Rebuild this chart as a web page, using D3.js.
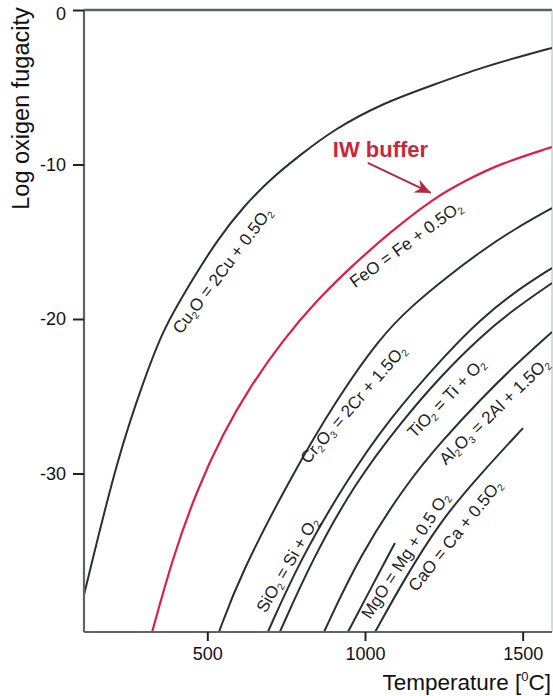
<!DOCTYPE html>
<html>
<head>
<meta charset="utf-8">
<script src="https://cdn.jsdelivr.net/npm/d3@7"></script>
<style>
body { margin: 0; background: #fff; }
svg { display: block; font-family: "Liberation Sans", Arial, sans-serif; }
</style>
</head>
<body>
<svg id="chart" width="553" height="696"></svg>
<script>
// [temperature in °C, log fO2]
const cu2o  = [[109,-37.86],[217,-28.8],[302,-23.8],[359,-20.7],[445,-17.7],[531,-14.9],[613,-12.75],[708,-10.8],[794,-9.4],[898,-7.77],[1057,-6.02],[1216,-4.85],[1374,-3.69],[1533,-2.78],[1593,-2.46]];
const feo   = [[325,-40.26],[391,-35.4],[467,-31.07],[550,-27.4],[635,-24.4],[740,-21.36],[848,-18.77],[962,-16.5],[1079,-14.4],[1216,-12.2],[1323,-11.0],[1428,-9.95],[1593,-8.87]];
const cr2o3 = [[537,-40.26],[604,-36.57],[772,-29.97],[905,-25.37],[1048,-21.17],[1152,-19.09],[1260,-17.28],[1365,-15.66],[1469,-14.24],[1593,-12.82]];
const sio2  = [[692,-40.26],[794,-35.6],[937,-30.61],[1073,-26.54],[1260,-22.2],[1365,-20.06],[1469,-18.32],[1593,-16.7]];
const tio2  = [[730,-40.26],[832,-35.6],[968,-30.61],[1120,-26.54],[1238,-23.75],[1365,-21.17],[1469,-19.42],[1593,-17.67]];
const al2o3 = [[870,-40.26],[984,-35.28],[1133,-30.61],[1247,-27.83],[1365,-25.24],[1476,-22.98],[1593,-20.84]];
const mgo   = [[946,-40.26],[1016,-37.54],[1095,-34.5]];
const cao   = [[1032,-40.26],[1127,-36.76],[1238,-33.14],[1349,-30.42],[1501,-27.06]];

const xTicks = [500, 1000, 1500];
const yTicks = [0, -10, -20, -30];

// label text ("_n" = subscript), anchor T, anchor log fO2, angle
const curveLabels = [
    ["Cu_2O = 2Cu + 0.5O_2", 547, -16.85, -53],
    ["FeO = Fe + 0.5O_2", 1129, -15.15, -36],
    ["Cr_2O_3 = 2Cr + 1.5O_2", 962, -25.5, -49],
    ["SiO_2 = Si + O_2", 753, -35.9, -60],
    ["TiO_2 = Ti + O_2", 1257, -25.1, -46],
    ["Al_2O_3 = 2Al + 1.5O_2", 1409, -25.95, -44],
    ["MgO = Mg + 0.5 O_2", 1127, -35.3, -57],
    ["CaO = Ca + 0.5O_2", 1285, -34.0, -51]
];

const svg = d3.select("#chart");
const x = d3.scaleLinear().domain([109, 1593]).range([84, 552]);
const y = d3.scaleLinear().domain([-40.26, 0]).range([632, 10]);

const dark = "#283031";
const red = "#dc1f4a";

svg.append("defs").append("clipPath").attr("id", "plot")
    .append("rect").attr("x", 84).attr("y", 10).attr("width", 468).attr("height", 622);

svg.append("defs").append("marker")
    .attr("id", "head").attr("viewBox", "-16 -8 18 16")
    .attr("markerWidth", 18).attr("markerHeight", 16)
    .attr("markerUnits", "userSpaceOnUse")
    .attr("refX", 0).attr("refY", 0).attr("orient", "auto")
    .append("path").attr("d", "M0,0 L-16,-7 L-11,0 L-16,7 Z").attr("fill", "#b3283f");

// frame
svg.append("line").attr("x1", 84).attr("x2", 552).attr("y1", 10).attr("y2", 10)
    .attr("stroke", "#5d6466").attr("stroke-width", 2.5);
svg.append("line").attr("x1", 552).attr("x2", 552).attr("y1", 10).attr("y2", 632)
    .attr("stroke", "#b0b4b6").attr("stroke-width", 1);

let line = d3.line().x(d => x(d[0])).y(d => y(d[1])).curve(d3.curveBasis);

let curves = svg.append("g").attr("clip-path", "url(#plot)");
[cu2o, cr2o3, sio2, tio2, al2o3, mgo, cao].forEach(c => {
    curves.append("path").attr("d", line(c)).attr("fill", "none")
        .attr("stroke", dark).attr("stroke-width", 2);
});
curves.append("path").attr("d", line(feo)).attr("fill", "none")
    .attr("stroke", red).attr("stroke-width", 2.2);

// axes
let xAxis = svg.append("g").attr("transform", "translate(0,632)")
    .call(d3.axisBottom(x).tickValues(xTicks).tickFormat(d => d).tickSize(9).tickPadding(6));
let yAxis = svg.append("g").attr("transform", "translate(84,0)")
    .call(d3.axisLeft(y).tickValues(yTicks).tickFormat(d => d).tickSize(11).tickPadding(7));

[xAxis, yAxis].forEach(a => {
    a.select(".domain").attr("stroke", "#5d6466").attr("stroke-width", 2.2);
    a.selectAll(".tick line").attr("stroke", "#222").attr("stroke-width", 2);
    a.selectAll(".tick text").attr("fill", "#111").attr("font-size", 18)
        .attr("font-family", "Liberation Sans, Arial, sans-serif");
});
yAxis.select(".domain").attr("d", "M0,10V632");
xAxis.select(".domain").attr("d", "M84,0H552");
yAxis.selectAll(".tick").filter(d => d === 0).select("text").attr("dy", "0.55em");

// axis titles
let xt = svg.append("text").attr("x", 551).attr("y", 690).attr("text-anchor", "end")
    .attr("font-size", 22.5).attr("fill", "#111");
xt.append("tspan").text("Temperature [");
xt.append("tspan").text("0").attr("font-size", 13).attr("dy", -9);
xt.append("tspan").text("C]").attr("dy", 9);

svg.append("text").attr("transform", "translate(29,108.5) rotate(-90)")
    .attr("text-anchor", "middle").attr("font-size", 23.5).attr("fill", "#111")
    .text("Log oxigen fugacity");

// curve labels
curveLabels.forEach(l => {
    let t = svg.append("text")
        .attr("transform", `translate(${x(l[1])},${y(l[2])}) rotate(${l[3]})`)
        .attr("y", 6).attr("text-anchor", "middle")
        .attr("font-size", 17).attr("fill", "#222");
    let shifted = false;
    l[0].split(/(_\d)/).filter(s => s.length).forEach(s => {
        if (s[0] === "_") {
            t.append("tspan").text(s.slice(1)).attr("font-size", 10).attr("dy", 3);
            shifted = true;
        } else {
            let sp = t.append("tspan").text(s);
            if (shifted) { sp.attr("dy", -3); shifted = false; }
        }
    });
});

// IW buffer annotation
svg.append("text").attr("x", x(898)).attr("y", y(-9.51))
    .attr("font-size", 22).attr("font-weight", "bold").attr("fill", "#c8283e")
    .text("IW buffer");
svg.append("line")
    .attr("x1", x(1009)).attr("y1", y(-9.9))
    .attr("x2", x(1209)).attr("y2", y(-11.84))
    .attr("stroke", "#b3283f").attr("stroke-width", 2)
    .attr("marker-end", "url(#head)");
</script>
</body>
</html>
